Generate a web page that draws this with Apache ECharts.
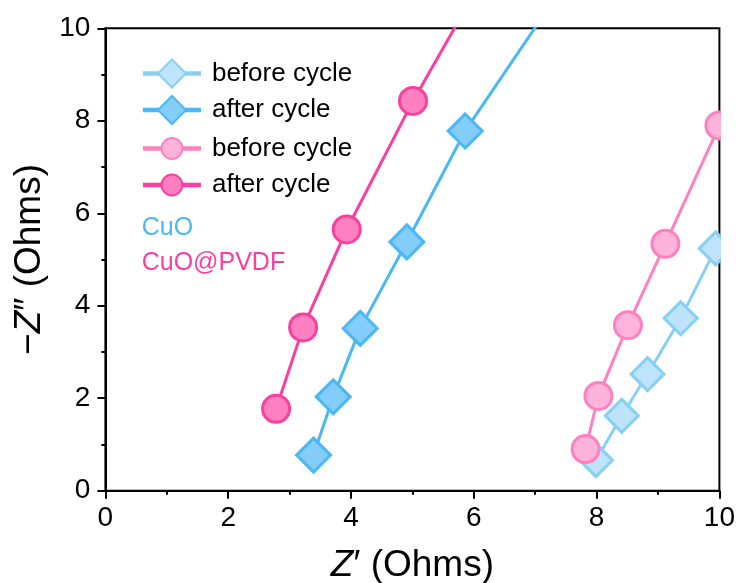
<!DOCTYPE html>
<html>
<head>
<meta charset="utf-8">
<script src="https://cdn.jsdelivr.net/npm/echarts@6/dist/echarts.min.js"></script>
<style>
  html, body { margin: 0; padding: 0; background: #fff; }
  #chart { width: 740px; height: 583px; }
</style>
</head>
<body>
<div id="chart"></div>
<script>
// Nyquist data (Z' vs -Z''), Ohms
const cuoBeforeX  = [7.99, 8.41, 8.83, 9.37, 9.94];
const cuoBeforeY  = [0.66, 1.62, 2.52, 3.73, 5.24];
const cuoAfterX   = [3.39, 3.71, 4.15, 4.91, 5.86, 7.50];
const cuoAfterY   = [0.77, 2.03, 3.51, 5.38, 7.78, 11.0];
const pvdfBeforeX = [7.82, 8.03, 8.51, 9.12, 10.0];
const pvdfBeforeY = [0.90, 2.05, 3.58, 5.34, 7.90];
const pvdfAfterX  = [2.78, 3.22, 3.93, 5.01, 6.20];
const pvdfAfterY  = [1.77, 3.53, 5.65, 8.43, 11.2];

const xTicks = [0, 2, 4, 6, 8, 10];
const yTicks = [0, 2, 4, 6, 8, 10];

const FONT = '"Liberation Sans", Arial, Helvetica, sans-serif';

const pairs = (xs, ys) => xs.map((x, i) => [x, ys[i]]);

const gridLeft = 105.4, gridRight = 20.6, gridTop = 28.3, gridBottom = 92.3;

const seriesDefs = [
  { name: 'CuO before cycle',      data: pairs(cuoBeforeX, cuoBeforeY),   symbol: 'diamond', size: 33, fill: '#bde4fb', stroke: '#88cff6' },
  { name: 'CuO after cycle',       data: pairs(cuoAfterX, cuoAfterY),     symbol: 'diamond', size: 34, fill: '#84cdf9', stroke: '#4ab8f5' },
  { name: 'CuO@PVDF before cycle', data: pairs(pvdfBeforeX, pvdfBeforeY), symbol: 'circle',  size: 27, fill: '#ffb3da', stroke: '#ff80c0' },
  { name: 'CuO@PVDF after cycle',  data: pairs(pvdfAfterX, pvdfAfterY),   symbol: 'circle',  size: 27, fill: '#ff80c0', stroke: '#fa3fa0' }
];

const series = seriesDefs.map(s => ({
  name: s.name,
  type: 'line',
  data: s.data,
  symbol: s.symbol,
  symbolSize: s.size,
  clip: true,
  lineStyle: { color: s.stroke, width: 3 },
  itemStyle: { color: s.fill, borderColor: s.stroke, borderWidth: 3, opacity: 1 },
  emphasis: { disabled: true },
  z: 2
}));

// one legend row per series so that each row can take its own icon size
const legendRows = [
  { name: 'CuO before cycle',      cy: 76,  h: 35 },
  { name: 'CuO after cycle',       cy: 112.5, h: 35 },
  { name: 'CuO@PVDF before cycle', cy: 148.5, h: 26 },
  { name: 'CuO@PVDF after cycle',  cy: 185,   h: 26 }
];
const legends = legendRows.map(r => ({
  show: true,
  data: [r.name],
  orient: 'vertical',
  left: 140.7,
  top: r.cy - r.h / 2,
  padding: 0,
  itemWidth: 58,
  itemHeight: r.h,
  itemGap: 13,
  selectedMode: false,
  lineStyle: { width: 4.5 },
  formatter: name => name.replace(/^CuO(@PVDF)? /, ''),
  textStyle: { fontFamily: FONT, fontSize: 26, color: '#000', padding: [0, 0, 0, 6] }
}));

const axisCommon = {
  type: 'value',
  min: 0,
  max: 10,
  interval: 2,
  axisLine: { show: true, onZero: false, lineStyle: { color: '#000', width: 2 } },
  axisTick: { show: true, inside: false, length: 8, lineStyle: { color: '#000', width: 2 } },
  minorTick: { show: true, splitNumber: 2, length: 4, lineStyle: { color: '#000', width: 2 } },
  splitLine: { show: false },
  nameTextStyle: {
    fontFamily: FONT, fontSize: 37, color: '#000',
    rich: { i: { fontFamily: FONT, fontSize: 37, fontStyle: 'italic', color: '#000' } }
  }
};

const chart = echarts.init(document.getElementById('chart'), null, { renderer: 'canvas' });
chart.setOption({
  animation: false,
  backgroundColor: '#fff',
  grid: {
    left: gridLeft, right: gridRight, top: gridTop, bottom: gridBottom,
    outerBoundsMode: 'none',
    containLabel: false,
    show: true, borderColor: '#000', borderWidth: 2, backgroundColor: 'transparent'
  },
  legend: legends,
  xAxis: Object.assign({}, axisCommon, {
    name: '{i|Z}′ (Ohms)',
    nameLocation: 'middle',
    nameGap: 57,
    axisLabel: {
      fontFamily: FONT, fontSize: 28, color: '#000', margin: 14,
      formatter: v => xTicks.includes(v) ? String(v) : ''
    }
  }),
  yAxis: Object.assign({}, axisCommon, {
    name: '−{i|Z}″ (Ohms)',
    nameLocation: 'middle',
    nameGap: 54,
    axisLabel: {
      fontFamily: FONT, fontSize: 28, color: '#000', margin: 15,
      formatter: v => yTicks.includes(v) ? String(v) : ''
    }
  }),
  graphic: [
    // keeps marks that sit on the right frame edge from spilling past it
    { type: 'rect', z: 100, silent: true,
      shape: { x: 740 - gridRight + 1.6, y: 0, width: 30, height: 583 - gridBottom + 1 },
      style: { fill: '#fff' } },
    { type: 'text', left: 141.7, top: 216, z: 10,
      style: { text: 'CuO', fontFamily: FONT, fontSize: 25, fill: '#4ab8f5' } },
    { type: 'text', left: 141.7, top: 251, z: 10,
      style: { text: 'CuO@PVDF', fontFamily: FONT, fontSize: 25, fill: '#fa3fa0' } }
  ],
  series: series
});
</script>
</body>
</html>
